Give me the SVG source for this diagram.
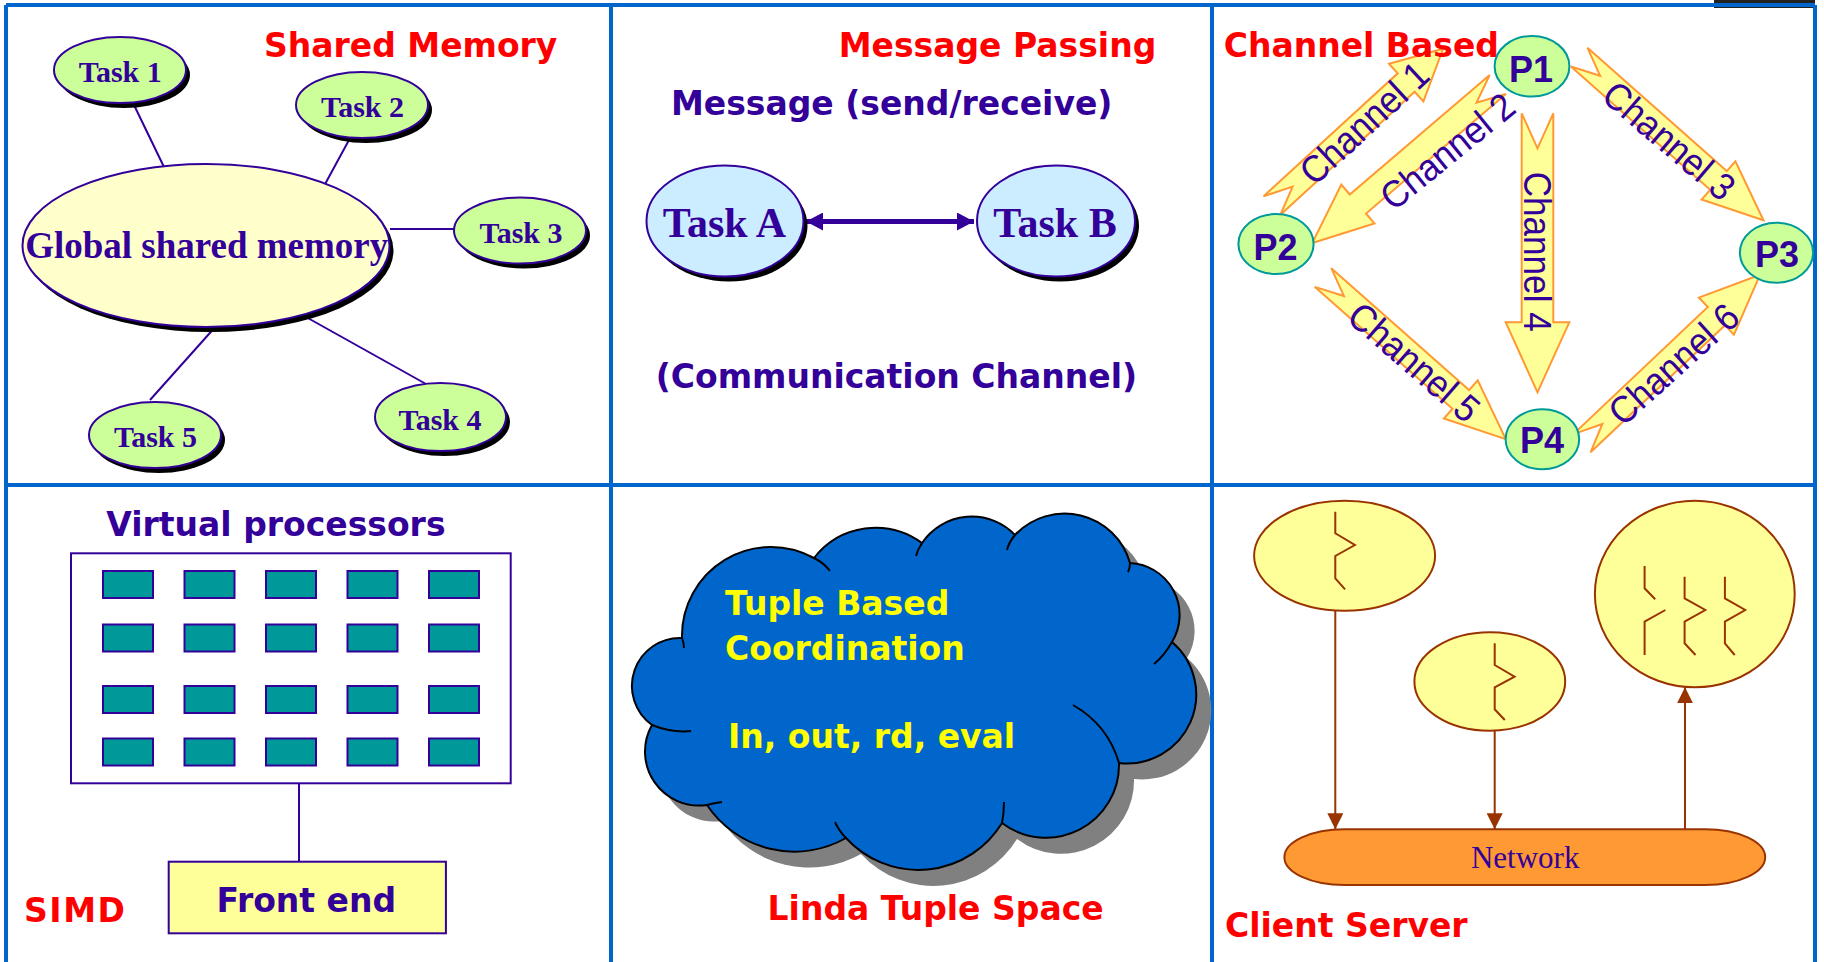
<svg xmlns="http://www.w3.org/2000/svg" width="1824" height="962" viewBox="0 0 1824 962">
<style>
.grid{stroke:#0066CC;stroke-width:4;fill:none}
.title{font-family:"DejaVu Sans",sans-serif;font-weight:bold;font-size:33px;fill:#FF0000}
.ind{font-family:"DejaVu Sans",sans-serif;font-weight:bold;font-size:33px;fill:#330099}
.yel{font-family:"DejaVu Sans",sans-serif;font-weight:bold;font-size:33px;fill:#FFFF00}
.tnr{font-family:"Liberation Serif","Times New Roman",serif;font-weight:bold;fill:#330099;text-anchor:middle}
.task{fill:#CCFF99;stroke:#330099;stroke-width:2}
.shadow{fill:#000}
.tline{stroke:#330099;stroke-width:2;fill:none}
.proc{fill:#CCFF99;stroke:#009999;stroke-width:2}
.ptext{font-family:"Liberation Sans",Arial,sans-serif;font-weight:bold;font-size:36px;fill:#330099;text-anchor:middle}
.chan{fill:#FFFF99;stroke:#FF9933;stroke-width:2;stroke-linejoin:miter}
.ctext{font-family:"Liberation Sans",Arial,sans-serif;font-size:38px;fill:#330099;text-anchor:middle}
.pe{fill:#009999;stroke:#330099;stroke-width:2}
.cs{fill:#FFFF99;stroke:#993300;stroke-width:2}
.thr{fill:none;stroke:#993300;stroke-width:2}
.csl{stroke:#993300;stroke-width:2;fill:none}
</style>
<defs>
<marker id="brownHead" markerUnits="userSpaceOnUse" markerWidth="16" markerHeight="16" refX="16" refY="8" orient="auto"><path d="M0,0 L16,8 L0,16 z" fill="#993300"/></marker>
<marker id="indHead" markerUnits="userSpaceOnUse" markerWidth="18" markerHeight="18" refX="17" refY="9" orient="auto-start-reverse"><path d="M0,0 L17,9 L0,18 z" fill="#330099"/></marker>
</defs>
<rect width="1824" height="962" fill="#FFFFFF"/>
<!-- top-right image fragment -->
<rect x="1714" y="0" width="101" height="8" fill="#222222"/>
<!-- grid -->
<g id="grid">
<path class="grid" d="M6,5 H1815 M6,5 V962 M611,5 V962 M1212,5 V962 M1815,5 V962 M6,485 H1815"/>
</g>

<!-- connectors -->
<g id="connectors">
<path class="tline" d="M134,105 L164,167 M349,140 L324,186 M390,229 L459,229 M306,317 L426,384 M217,325 L150,400"/>
<line x1="806" y1="221.5" x2="974" y2="221.5" stroke="#330099" stroke-width="5" marker-start="url(#indHead)" marker-end="url(#indHead)"/>
<path class="tline" d="M299,783 V862"/>
<line class="csl" x1="1335.3" y1="610.7" x2="1335.3" y2="829.3" marker-end="url(#brownHead)"/>
<line class="csl" x1="1494.7" y1="730.7" x2="1494.7" y2="829.3" marker-end="url(#brownHead)"/>
<line class="csl" x1="1685" y1="829.3" x2="1685" y2="687.3" marker-end="url(#brownHead)"/>
<g id="channel-arrows">
<polygon class="chan" transform="translate(1272,205.5) rotate(-42.5)" points="0,-12.5 182,-12.5 182,-25.5 232,0 182,25.5 182,12.5 0,12.5 28,0"/>
<polygon class="chan" transform="translate(1497.8,84.5) rotate(139.5)" points="0,-12.5 184,-12.5 184,-25.5 244,0 184,25.5 184,12.5 0,12.5 28,0"/>
<polygon class="chan" transform="translate(1579.2,57.2) rotate(41.5)" points="0,-12.5 186,-12.5 186,-25.5 246,0 186,25.5 186,12.5 0,12.5 28,0"/>
<polygon class="chan" transform="translate(1537.5,113.3) rotate(90)" points="0,-15.8 209,-15.8 209,-31.8 279,0 209,31.8 209,15.8 0,15.8 35,0"/>
<polygon class="chan" transform="translate(1323,277.5) rotate(41.5)" points="0,-12.5 184,-12.5 184,-25.5 244,0 184,25.5 184,12.5 0,12.5 28,0"/>
<polygon class="chan" transform="translate(1582,443.2) rotate(-43.4)" points="0,-12.5 185,-12.5 185,-25.5 245,0 185,25.5 185,12.5 0,12.5 28,0"/>
<text class="ctext" transform="translate(1363.8,122.5) rotate(-42.8)" y="13.8" textLength="160" lengthAdjust="spacingAndGlyphs">Channel 1</text>
<text class="ctext" transform="translate(1447,150.8) rotate(-39)" y="13.8" textLength="160" lengthAdjust="spacingAndGlyphs">Channel 2</text>
<text class="ctext" transform="translate(1669.5,140.3) rotate(40.5)" y="13.8" textLength="160" lengthAdjust="spacingAndGlyphs">Channel 3</text>
<text class="ctext" transform="translate(1537.5,251.7) rotate(90)" y="13.8" textLength="160" lengthAdjust="spacingAndGlyphs">Channel 4</text>
<text class="ctext" transform="translate(1414.5,361.7) rotate(41)" y="13.8" textLength="160" lengthAdjust="spacingAndGlyphs">Channel 5</text>
<text class="ctext" transform="translate(1673.2,363.7) rotate(-42)" y="13.8" textLength="160" lengthAdjust="spacingAndGlyphs">Channel 6</text>
</g>
</g>

<!-- Panel 1: Shared Memory -->
<text class="title" x="264" y="57">Shared Memory</text>
<g id="global-memory">
<ellipse class="shadow" cx="210" cy="250.5" rx="183.5" ry="81.5"/>
<ellipse cx="206" cy="245.5" rx="183.5" ry="81.5" fill="#FFFFCC" stroke="#330099" stroke-width="2"/>
<text class="tnr" x="206.7" y="258" font-size="37">Global shared memory</text>
</g>
<g id="task1">
<ellipse class="shadow" cx="124" cy="75" rx="66" ry="33"/>
<ellipse class="task" cx="120" cy="70" rx="66" ry="33"/>
<text class="tnr" x="120.2" y="81.7" font-size="30">Task 1</text>
</g>
<g id="task2">
<ellipse class="shadow" cx="366" cy="110" rx="66" ry="33"/>
<ellipse class="task" cx="362" cy="105" rx="66" ry="33"/>
<text class="tnr" x="362.5" y="116.7" font-size="30">Task 2</text>
</g>
<g id="task3">
<ellipse class="shadow" cx="524" cy="235.5" rx="66" ry="33"/>
<ellipse class="task" cx="520" cy="230.5" rx="66" ry="33"/>
<text class="tnr" x="521" y="243" font-size="30">Task 3</text>
</g>
<g id="task4">
<ellipse class="shadow" cx="444.5" cy="422" rx="65.5" ry="34"/>
<ellipse class="task" cx="440.5" cy="417" rx="65.5" ry="34"/>
<text class="tnr" x="440" y="430" font-size="30">Task 4</text>
</g>
<g id="task5">
<ellipse class="shadow" cx="159" cy="440" rx="66" ry="33"/>
<ellipse class="task" cx="155" cy="435" rx="66" ry="33"/>
<text class="tnr" x="155.5" y="447" font-size="30">Task 5</text>
</g>

<!-- Panel 2: Message Passing -->
<text class="title" x="997.5" y="57" text-anchor="middle">Message Passing</text>
<text class="ind" x="891.7" y="115" text-anchor="middle">Message (send/receive)</text>
<g id="taskA">
<ellipse class="shadow" cx="729" cy="226" rx="78.5" ry="55.5"/>
<ellipse cx="725" cy="221" rx="78.5" ry="55.5" fill="#CCECFF" stroke="#330099" stroke-width="2"/>
<text class="tnr" x="724.5" y="237" font-size="42">Task A</text>
</g>
<g id="taskB">
<ellipse class="shadow" cx="1060" cy="226" rx="79" ry="55.5"/>
<ellipse cx="1056" cy="221" rx="79" ry="55.5" fill="#CCECFF" stroke="#330099" stroke-width="2"/>
<text class="tnr" x="1055" y="237" font-size="42">Task B</text>
</g>
<text class="ind" x="896.4" y="388" text-anchor="middle">(Communication Channel)</text>

<!-- Panel 3: Channel Based -->
<text class="title" x="1223.7" y="57">Channel Based</text>
<g id="P1"><ellipse class="proc" cx="1532" cy="66.3" rx="37.4" ry="30.3"/><text class="ptext" x="1531" y="81.7">P1</text></g>
<g id="P2"><ellipse class="proc" cx="1276" cy="244" rx="37.6" ry="30"/><text class="ptext" x="1275.5" y="260">P2</text></g>
<g id="P3"><ellipse class="proc" cx="1776.5" cy="252.7" rx="36.6" ry="30"/><text class="ptext" x="1777" y="266.7">P3</text></g>
<g id="P4"><ellipse class="proc" cx="1542.4" cy="439.3" rx="36.8" ry="30"/><text class="ptext" x="1542" y="453">P4</text></g>

<!-- Panel 4: SIMD -->
<text class="ind" x="275.9" y="536" text-anchor="middle">Virtual processors</text>
<g id="processor-array">
<rect x="71" y="553.3" width="439.7" height="230" fill="#FFFFFF" stroke="#330099" stroke-width="2"/>
<rect class="pe" x="103" y="571" width="50" height="27"/><rect class="pe" x="184.5" y="571" width="50" height="27"/><rect class="pe" x="266" y="571" width="50" height="27"/><rect class="pe" x="347.5" y="571" width="50" height="27"/><rect class="pe" x="429" y="571" width="50" height="27"/>
<rect class="pe" x="103" y="624.5" width="50" height="27"/><rect class="pe" x="184.5" y="624.5" width="50" height="27"/><rect class="pe" x="266" y="624.5" width="50" height="27"/><rect class="pe" x="347.5" y="624.5" width="50" height="27"/><rect class="pe" x="429" y="624.5" width="50" height="27"/>
<rect class="pe" x="103" y="686" width="50" height="27"/><rect class="pe" x="184.5" y="686" width="50" height="27"/><rect class="pe" x="266" y="686" width="50" height="27"/><rect class="pe" x="347.5" y="686" width="50" height="27"/><rect class="pe" x="429" y="686" width="50" height="27"/>
<rect class="pe" x="103" y="738.5" width="50" height="27"/><rect class="pe" x="184.5" y="738.5" width="50" height="27"/><rect class="pe" x="266" y="738.5" width="50" height="27"/><rect class="pe" x="347.5" y="738.5" width="50" height="27"/><rect class="pe" x="429" y="738.5" width="50" height="27"/>
</g>
<g id="front-end">
<rect x="168.7" y="861.7" width="277.2" height="71.6" fill="#FFFF99" stroke="#330099" stroke-width="2"/>
<text class="ind" x="306.3" y="911.7" text-anchor="middle">Front end</text>
</g>
<text class="title" x="24" y="921.7" textLength="101" lengthAdjust="spacing">SIMD</text>

<!-- Panel 5: Linda -->
<g id="tuple-space">
<path transform="translate(15,16)" fill="#808080" d="M682,638 A89,89 0 0 1 814,558 A78,78 0 0 1 922,543 A60,60 0 0 1 1015,535 A68,68 0 0 1 1130,563 A52,52 0 0 1 1172,642 A69,69 0 0 1 1119,763 A73,73 0 0 1 1002,823 A98,98 0 0 1 846,838 A105,105 0 0 1 707,805 A54,54 0 0 1 652,725 A48,48 0 0 1 682,638 Z"/>
<path fill="#0066CC" stroke="#000000" stroke-width="2" d="M682,638 A89,89 0 0 1 814,558 A78,78 0 0 1 922,543 A60,60 0 0 1 1015,535 A68,68 0 0 1 1130,563 A52,52 0 0 1 1172,642 A69,69 0 0 1 1119,763 A73,73 0 0 1 1002,823 A98,98 0 0 1 846,838 A105,105 0 0 1 707,805 A54,54 0 0 1 652,725 A48,48 0 0 1 682,638 Z"/>
<path fill="none" stroke="#000000" stroke-width="2" d="M682,638 q2,5 2,10 M814,558 q10,5 16,13 M922,543 q-4,6 -6,13 M1015,535 q-6,7 -8,15 M1130,563 q0,5 -2,9 M1172,642 q-8,14 -18,22 M1073,705 Q1108,725 1119,763 M1002,823 q2,-10 2,-21 M846,838 q-7,-7 -11,-16 M707,805 q7,-2 15,-3 M652,725 q20,8 39,6"/>
<text class="yel" x="725" y="615">Tuple Based</text>
<text class="yel" x="725" y="660">Coordination</text>
<text class="yel" x="728" y="748.3">In, out, rd, eval</text>
</g>
<text class="title" x="935.6" y="920" text-anchor="middle">Linda Tuple Space</text>

<!-- Panel 6: Client Server -->
<g id="client1">
<ellipse class="cs" cx="1344.6" cy="555.7" rx="90.5" ry="55"/>
<path class="thr" d="M1335.3,511.7 V533.3 L1354.9,545 L1335.3,556 V578.3 L1345.1,589.3"/>
</g>
<g id="client2">
<ellipse class="cs" cx="1489.8" cy="681.5" rx="75.4" ry="49.2"/>
<path class="thr" d="M1494.7,643.3 V665 L1514.6,676.7 L1494.7,687.3 V709.3 L1504.8,720"/>
</g>
<g id="server">
<ellipse class="cs" cx="1694.8" cy="594" rx="99.9" ry="93.3"/>
<path class="thr" d="M1644.6,566 V588.3 L1655.2,599.3 M1665.4,610 L1644.6,621.7 V655"/>
<path class="thr" d="M1684.6,576.7 V598.3 L1705.3,610 L1684.6,621.7 V643.3 L1695.5,655"/>
<path class="thr" d="M1724.9,576.7 V598.3 L1745.2,610 L1724.9,621.7 V643.3 L1734.7,655"/>
</g>
<g id="network">
<rect x="1284.4" y="829.3" width="480.8" height="55.7" rx="60" ry="27.8" fill="#FF9933" stroke="#993300" stroke-width="2"/>
<text x="1525.2" y="868.3" font-family="Liberation Serif, Times New Roman, serif" font-size="31" fill="#330099" text-anchor="middle">Network</text>
</g>
<text class="title" x="1225" y="936.7">Client Server</text>
</svg>
